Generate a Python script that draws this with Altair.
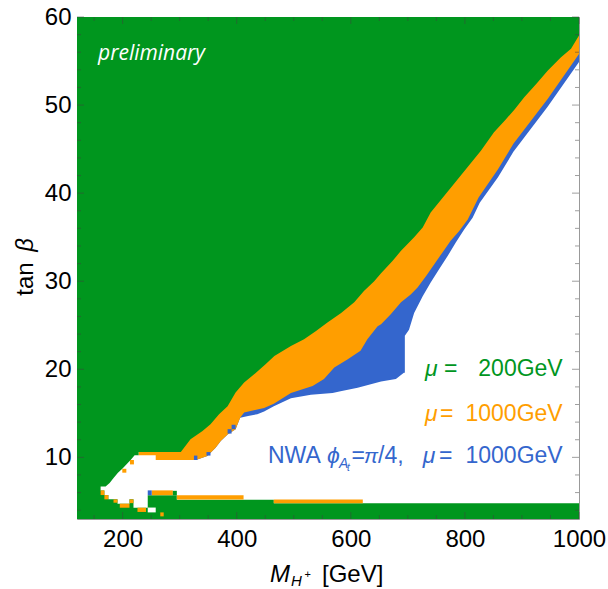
import altair as alt
import pandas as pd

# ---------------- data (GeV, tan beta) ----------------
X_DOMAIN = [120, 1000]
Y_DOMAIN = [3, 60]

# lower edge of the green region (mu = 200 GeV)
green_x = [120, 161.4, 170.2, 177.2, 184.8, 191.8, 199.4, 206.5, 214, 221, 228, 228, 302, 319, 340, 354,
           369, 384, 398, 413, 430, 451, 466, 495, 518, 539, 559, 583, 606, 623, 641, 653, 673, 688,
           711, 726, 740, 828, 851, 872, 887, 904, 925, 945, 968, 986, 1000]
green_y = [6.7, 6.7, 6.7, 7.1, 7.7, 8.26, 8.7, 9.2, 9.7, 10.23, 10.23, 10.6, 10.6, 12.05, 13.0, 13.75,
           14.9, 15.8, 17.35, 18.5, 19.4, 20.6, 21.5, 22.65, 23.4, 24.35, 25.3, 26.4, 27.6, 28.9, 30.0,
           30.9, 32.3, 33.45, 35.0, 36.1, 37.8, 44.8, 46.9, 48.4, 49.5, 50.9, 52.4, 53.9, 55.4, 56.4, 57.9]

# lower edge of the orange region (mu = 1000 GeV)
orange_x = [228, 258, 258, 325, 331, 348.5, 363, 372, 384, 398, 406, 413, 448, 465, 495, 533, 553,
            571, 594, 617, 629, 647, 653, 670, 688, 705, 717, 732, 746, 761, 775, 790, 805, 824, 858,
            885, 945, 1000]
orange_y = [10.23, 10.23, 9.7, 9.7, 9.77, 10.15, 11.1, 11.85, 12.6, 13.2, 14.5, 15.1, 15.6, 16.1,
            17.3, 18.1, 18.9, 20.2, 21.1, 22.1, 23.4, 24.9, 25.1, 26.25, 27.6, 28.5, 29.3, 30.6, 31.9,
            33.3, 34.6, 35.7, 37.0, 39.5, 42.7, 45.6, 50.7, 55.8]

# lower edge of the blue region (NWA, phi = pi/4, mu = 1000 GeV)
blue_x = [325, 331, 348.5, 363, 372, 384, 398, 406, 420, 436, 448, 465, 495, 530, 568, 582, 612, 635,
          653, 679, 693, 694.7, 694.7, 702, 711, 726, 740, 755, 770, 784, 799, 813.5, 826, 858, 885,
          945, 1000]
blue_y = [9.7, 9.77, 10.15, 11.1, 11.85, 12.6, 13.2, 14.5, 14.7, 14.9, 15.2, 15.8, 16.7, 17.1, 17.3,
          17.5, 17.9, 18.3, 18.6, 18.9, 19.6, 19.6, 23.8, 24.5, 26.4, 28.3, 29.85, 31.4, 32.9, 34.4,
          35.9, 37.2, 38.9, 41.8, 44.7, 49.8, 54.9]

# lower edge of the allowed (white) region
white_x = [161.4, 168, 168, 175, 175, 191, 191, 212, 212, 219, 219, 244, 244, 295, 295, 465, 465, 1000]
white_y = [6.25, 6.25, 5.72, 5.72, 5.23, 5.23, 4.74, 4.74, 5.23, 5.23, 4.28, 4.28, 5.7, 5.7, 5.2,
           5.2, 4.8, 4.8]

# isolated grid cells
cell_kind = ["orange", "orange", "orange", "orange", "orange", "orange", "orange", "orange", "orange",
             "orange", "orange", "orange", "blue", "blue", "blue", "blue", "blue", "white", "green"]
cell_x1 = [161.4, 168, 184, 195, 212, 226, 266, 212.8, 199.4, 251, 295, 465, 244, 325, 347, 384, 391, 244, 288]
cell_x2 = [168, 175, 191, 212, 219, 241, 272, 219.8, 206.5, 288, 412, 621, 251, 331, 354, 391, 398, 258, 295]
cell_y1 = [5.72, 5.23, 4.85, 4.28, 4.8, 3.8, 3.3, 9.2, 8.26, 5.7, 5.2, 4.8, 5.7, 9.7, 10.2, 12.7, 13.2, 3.75, 5.7]
cell_y2 = [6.25, 5.72, 5.23, 4.74, 5.23, 4.28, 3.75, 9.7, 8.7, 6.25, 5.7, 5.2, 6.25, 10.2, 10.6, 13.2, 13.7, 4.3, 6.2]

x_major = [200, 400, 600, 800, 1000]
x_minor = [150, 250, 300, 350, 450, 500, 550, 650, 700, 750, 850, 900, 950]
y_major = [10, 20, 30, 40, 50, 60]
y_minor = [4, 6, 8, 12, 14, 16, 18, 22, 24, 26, 28, 32, 34, 36, 38, 42, 44, 46, 48, 52, 54, 56, 58]

# ---------------- styles ----------------
GREEN = "#00961E"
ORANGE = "#FF9E00"
BLUE = "#3466CD"
FONT = "Liberation Sans"
W, H = 502, 502

xsc = alt.Scale(domain=X_DOMAIN, nice=False, zero=False)
ysc = alt.Scale(domain=Y_DOMAIN, nice=False, zero=False)

XAX = alt.Axis(values=x_major, title=None, ticks=False, domain=False, grid=False, labelFontSize=24,
               labelFont=FONT, labelColor="black", labelPadding=8, labelFlush=False,
               labelOverlap=False, format="d")
YAX = alt.Axis(values=y_major, title=None, ticks=False, domain=False, grid=False, labelFontSize=24,
               labelFont=FONT, labelColor="black", labelPadding=6, labelFlush=False,
               labelOverlap=False, format="d")


def X(f):
    return alt.X(f, scale=xsc, axis=XAX)


def Y(f):
    return alt.Y(f, scale=ysc, axis=YAX)


bg = alt.Chart(pd.DataFrame({"x1": [X_DOMAIN[0]], "x2": [X_DOMAIN[1]],
                             "y1": [Y_DOMAIN[0]], "y2": [Y_DOMAIN[1]]})).mark_rect(
    color=GREEN).encode(x=X("x1:Q"), x2="x2", y=Y("y1:Q"), y2="y2")


def region(xv, yv, color):
    df = pd.DataFrame({"x": xv, "y": yv, "top": [Y_DOMAIN[1]] * len(xv)})
    return alt.Chart(df).mark_area(color=color, clip=True, interpolate="linear",
                                   orient="vertical").encode(
        x=X("x:Q"), y=Y("y:Q"), y2="top")


white = region(white_x, white_y, "#FFFFFF")
blue = region(blue_x, blue_y, BLUE)
orange = region(orange_x, orange_y, ORANGE)
green = region(green_x, green_y, GREEN)

cells = alt.Chart(pd.DataFrame({"k": cell_kind, "x1": cell_x1, "x2": cell_x2,
                                "y1": cell_y1, "y2": cell_y2})).mark_rect(clip=True).encode(
    x=X("x1:Q"), x2="x2", y=Y("y1:Q"), y2="y2",
    color=alt.Color("k:N", scale=alt.Scale(domain=["orange", "blue", "white", "green"],
                                           range=[ORANGE, BLUE, "#FFFFFF", GREEN]), legend=None))

TICK = dict(color="#404040", opacity=0.5, strokeWidth=1)


def xticks(vals, length):
    d = pd.DataFrame({"v": vals})
    b = alt.Chart(d).mark_rule(**TICK).encode(x=X("v:Q"), y=alt.value(H), y2=alt.value(H - length))
    t = alt.Chart(d).mark_rule(**TICK).encode(x=X("v:Q"), y=alt.value(0), y2=alt.value(length))
    return [b, t]


def yticks(vals, length):
    d = pd.DataFrame({"v": vals})
    l = alt.Chart(d).mark_rule(**TICK).encode(y=Y("v:Q"), x=alt.value(0), x2=alt.value(length))
    r = alt.Chart(d).mark_rule(**TICK).encode(y=Y("v:Q"), x=alt.value(W), x2=alt.value(W - length))
    return [l, r]


def txt(s, x, y, size, color, italic=False, align="left", angle=0, font=FONT):
    kw = dict(fontSize=size, color=color, align=align, baseline="alphabetic", font=font)
    if italic:
        kw["fontStyle"] = "italic"
    if angle:
        kw["angle"] = angle
    return alt.Chart(pd.DataFrame({"t": [s]})).mark_text(**kw).encode(
        text="t:N", x=alt.value(x), y=alt.value(y))


texts = [
    txt("preliminary", 21, 43, 21, "white", italic=True, font="Open Sans"),
    # legend lines
    txt("\u03bc", 348, 359, 23, GREEN, italic=True),
    txt("=", 367, 359, 23, GREEN),
    txt("200GeV", 485.7, 359, 23, GREEN, align="right"),
    txt("\u03bc", 348, 404, 23, ORANGE, italic=True),
    txt("=", 363, 404, 23, ORANGE),
    txt("1000GeV", 485.7, 404, 23, ORANGE, align="right"),
    txt("NWA", 191, 445.5, 23, BLUE),
    txt("\u03d5", 250, 445.5, 23, BLUE, italic=True),
    txt("A", 262, 450.5, 14, BLUE, italic=True),
    txt("t", 270, 453.5, 10, BLUE, italic=True),
    txt("=", 274.5, 445.5, 23, BLUE),
    txt("\u03c0", 287, 445.5, 21, BLUE, italic=True),
    txt("/4,", 301, 445.5, 23, BLUE),
    txt("\u03bc", 345.7, 445.5, 23, BLUE, italic=True),
    txt("=", 362, 445.5, 23, BLUE),
    txt("1000GeV", 485.7, 445.5, 23, BLUE, align="right"),
    # x axis title
    txt("M", 193, 565, 24, "black", italic=True),
    txt("H", 214, 568.5, 15, "black", italic=True),
    txt("+", 227.5, 561, 11, "black"),
    txt("[GeV]", 245, 565, 24, "black"),
    # y axis title
    txt("tan", -44, 262, 24, "black", align="center", angle=270),
    txt("\u03b2", -44, 228, 24, "black", italic=True, align="center", angle=270),
]

layers = [bg, white, blue, orange, green, cells]
layers += xticks(x_major, 7) + xticks(x_minor, 4) + yticks(y_major, 7) + yticks(y_minor, 4)
layers += texts

chart = alt.layer(*layers).properties(
    width=W, height=H,
    padding={"left": 77, "top": 17, "right": 29, "bottom": 70},
    autosize=alt.AutoSizeParams(type="none"),
).configure_view(stroke="#999999", strokeWidth=1)

chart.save("out.html", embed_options={"renderer": "svg", "actions": False})
